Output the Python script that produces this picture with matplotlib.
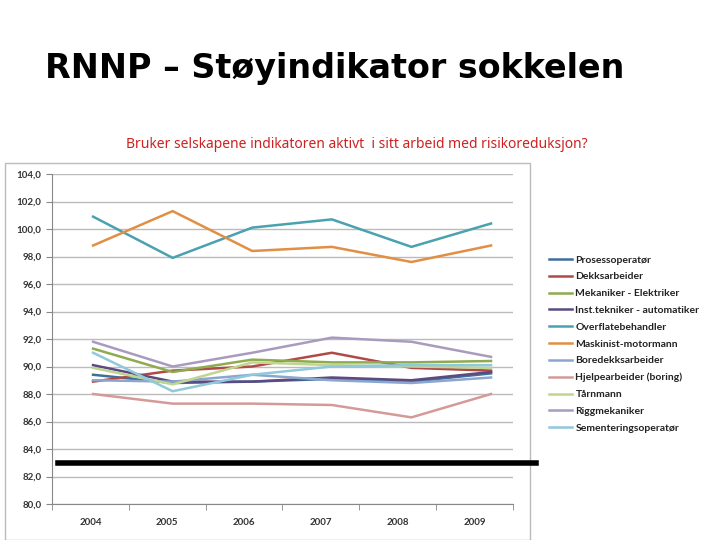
import matplotlib
matplotlib.use("Agg")
import matplotlib.pyplot as plt
from matplotlib.patches import Rectangle
from matplotlib.lines import Line2D

plt.rcParams['font.family'] = ['Lato', 'DejaVu Sans']

years = ["2004", "2005", "2006", "2007", "2008", "2009"]
names = ["Prosessoperatør", "Dekksarbeider", "Mekaniker - Elektriker",
         "Inst.tekniker - automatiker", "Overflatebehandler", "Maskinist-motormann",
         "Boredekksarbeider", "Hjelpearbeider (boring)", "Tårnmann", "Riggmekaniker",
         "Sementeringsoperatør"]
prosess = [89.4, 88.8, 88.9, 89.1, 88.9, 89.5]
dekks = [88.9, 89.7, 90.0, 91.0, 89.9, 89.7]
mekaniker = [91.3, 89.6, 90.5, 90.3, 90.3, 90.4]
inst = [90.1, 88.9, 88.9, 89.2, 89.0, 89.6]
overflate = [100.9, 97.9, 100.1, 100.7, 98.7, 100.4]
maskinist = [98.8, 101.3, 98.4, 98.7, 97.6, 98.8]
boredekk = [89.0, 88.9, 89.4, 89.0, 88.8, 89.2]
hjelpe = [88.0, 87.3, 87.3, 87.2, 86.3, 88.0]
taarn = [89.9, 88.7, 90.3, 90.1, 90.0, 89.9]
rigg = [91.8, 90.0, 91.0, 92.1, 91.8, 90.7]
sement = [91.0, 88.2, 89.4, 90.0, 90.1, 90.1]
series = [prosess, dekks, mekaniker, inst, overflate, maskinist, boredekk, hjelpe, taarn, rigg, sement]
colors = ["#3f6f9a", "#b04a47", "#8fab4f", "#5c4a80", "#4aa1b0", "#e08f44",
          "#8ba7cf", "#d49a98", "#c0d58f", "#a99bbf", "#90c8dc"]

fig = plt.figure(figsize=(7.2, 5.4), dpi=100)
fig.patches.append(Rectangle((5/720, 0), 525/720, 1-163/540, transform=fig.transFigure,
                             facecolor="white", edgecolor="#bbbbbb", lw=1, zorder=-1))
fig.text(0.062, 0.874, "RNNP – Støyindikator sokkelen", fontsize=24, fontweight="bold",
         family="DejaVu Sans", va="center")
fig.text(0.495, 0.733, "Bruker selskapene indikatoren aktivt  i sitt arbeid med risikoreduksjon?",
         fontsize=10, color="#cc2222", family="Noto Sans", ha="center", va="center")

rect = [52/720, 1-504/540, (513-52)/720, (504-174)/540]
ax = fig.add_axes(rect)
ax.patch.set_alpha(0)
x = list(range(len(years)))
ax.set_xlim(-0.5, 5.5)
ax.set_ylim(80, 104)
ax.set_yticks(range(80, 105, 2))
ax.set_yticklabels([f"{v:.1f}".replace(".", ",") for v in range(80, 105, 2)], fontsize=7,
                   color="#333333", fontweight="bold")
ax.set_xticks(x)
ax.set_xticklabels(years, fontsize=7, color="#333333", fontweight="bold")
ax.set_xticks([i - 0.5 for i in range(7)], minor=True)
ax.tick_params(axis="x", which="major", length=0, pad=10)
ax.tick_params(axis="x", which="minor", length=4, color="#888888")
ax.tick_params(axis="y", length=4, color="#888888")
ax.set_axisbelow(True)
ax.grid(axis="y", color="#bbbbbb", lw=1)
for sp in ["top", "right"]:
    ax.spines[sp].set_visible(False)
for sp in ["left", "bottom"]:
    ax.spines[sp].set_color("#888888")

# overlaid line layer (slightly offset in the original)
lx = fig.add_axes(rect)
lx.patch.set_alpha(0)
lx.axis("off")
lx.set_xlim(-0.516, 5.276)
lx.set_ylim(80, 104)
for n, s, c in zip(names, series, colors):
    lx.plot(x, s, color=c, lw=1.8, label=n)

ax.plot([-0.42, 5.80], [83.0, 83.0], color="black", lw=4, clip_on=False, zorder=5)

handles = [Line2D([0], [0], color=c, lw=1.8) for c in colors]
leg = fig.legend(handles, names, loc="upper left", bbox_to_anchor=(540/720, 1-246/540),
                 frameon=False, fontsize=7.5, handlelength=2.2, handletextpad=0.3, labelspacing=0.72)
for t in leg.get_texts():
    t.set_fontweight("bold")
    t.set_color("#222222")
fig.savefig("out.png", dpi=100)
